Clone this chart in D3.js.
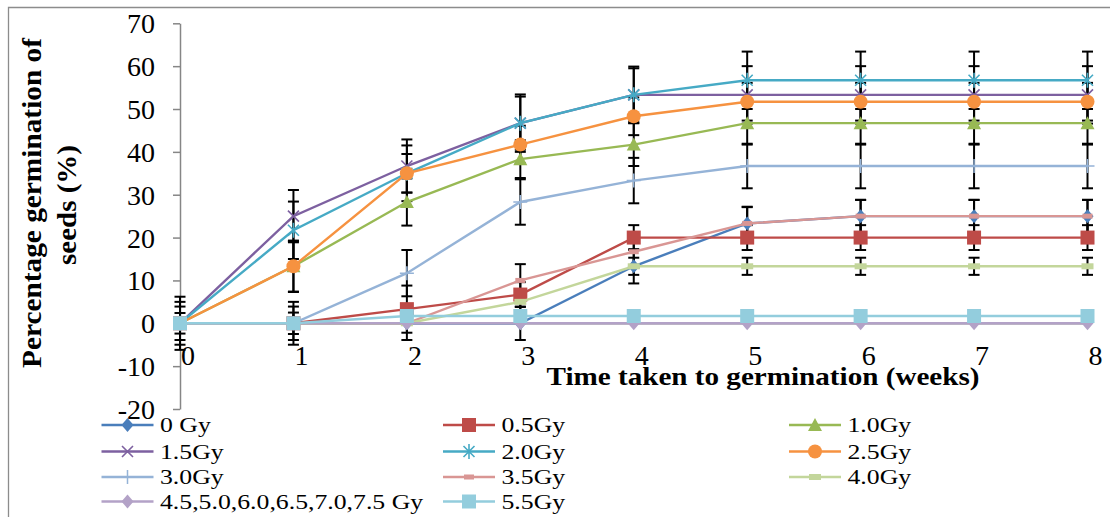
<!DOCTYPE html>
<html>
<head>
<meta charset="utf-8">
<script src="https://cdn.jsdelivr.net/npm/d3@7"></script>
<style>
  body { margin: 0; background: #fff; }
  svg text { font-family: "Liberation Serif", "Times New Roman", serif; fill: #000; }
</style>
</head>
<body>
<svg id="chart" width="1110" height="517"></svg>
<script>
//Weeks on the x axis
var weeks = [0, 1, 2, 3, 4, 5, 6, 7, 8];
var yTicks = [-20, -10, 0, 10, 20, 30, 40, 50, 60, 70];

//Series names, in legend order
var names = ["0 Gy", "0.5Gy", "1.0Gy", "1.5Gy", "2.0Gy", "2.5Gy", "3.0Gy", "3.5Gy", "4.0Gy",
  "4.5,5.0,6.0,6.5,7.0,7.5 Gy", "5.5Gy"];

//Germination (%) per week
var g00 = [0, 0, 0, 0, 13.3, 23.3, 25, 25, 25];
var g05 = [0, 0, 3.3, 6.7, 20, 20, 20, 20, 20];
var g10 = [0, 13.3, 28.3, 38.3, 41.7, 46.7, 46.7, 46.7, 46.7];
var g15 = [0, 25, 36.7, 46.7, 53.3, 53.3, 53.3, 53.3, 53.3];
var g20 = [0, 21.7, 35, 46.7, 53.3, 56.7, 56.7, 56.7, 56.7];
var g25 = [0, 13.3, 35, 41.7, 48.3, 51.7, 51.7, 51.7, 51.7];
var g30 = [0, 0, 11.7, 28.3, 33.3, 36.7, 36.7, 36.7, 36.7];
var g35 = [0, 0, 0, 10, 16.7, 23.3, 25, 25, 25];
var g40 = [0, 0, 0, 5, 13.3, 13.3, 13.3, 13.3, 13.3];
var g45 = [0, 0, 0, 0, 0, 0, 0, 0, 0];
var g55 = [0, 0, 1.7, 1.7, 1.7, 1.7, 1.7, 1.7, 1.7];

//Error bar half lengths per week
var e00 = [3.9, 3.9, 3.9, 3.9, 4, 3.9, 3.8, 3.8, 3.8];
var e05 = [2.4, 2.5, 5.5, 2.9, 2.9, 2.9, 2.9, 2.9, 2.9];
var e10 = [6.2, 5.9, 5.5, 4.4, 5, 5, 5, 5, 5];
var e15 = [0, 6.1, 6.2, 6.2, 6.2, 6.7, 6.7, 6.7, 6.7];
var e20 = [0, 6.7, 6.5, 6.7, 6.6, 6.7, 6.7, 6.7, 6.7];
var e25 = [0, 6, 4.5, 4.4, 4.4, 4.4, 4.4, 4.4, 4.4];
var e30 = [5, 5, 5.4, 5.3, 5.3, 5.2, 5.2, 5.2, 5.2];
var e35 = [0, 0, 0, 3.8, 3.8, 3.8, 3.8, 3.8, 3.8];
var e40 = [0, 0, 0, 2, 2, 2, 2, 2, 2];
var e45 = [0, 0, 0, 0, 0, 0, 0, 0, 0];
var e55 = [0, 0, 0, 0, 0, 0, 0, 0, 0];

var values = [g00, g05, g10, g15, g20, g25, g30, g35, g40, g45, g55];
var errors = [e00, e05, e10, e15, e20, e25, e30, e35, e40, e45, e55];

//Excel 2007 style colours and markers
var colors = ["#4A7EBB", "#BE4B48", "#98B954", "#7D60A0", "#46AAC5", "#F69240",
  "#95B3D7", "#D99694", "#C3D69B", "#B3A2C7", "#93CDDD"];
var markers = ["diamond", "square", "triangle", "x", "star", "circle",
  "plus", "dash", "dashBig", "diamond", "square"];

var series = names.map(function(n, i) {
  return {
    name: n, color: colors[i], marker: markers[i],
    points: weeks.map(function(w, j) { return { w: w, v: values[i][j], e: errors[i][j] }; })
  };
});

var svg = d3.select("#chart");

//Outer frame
svg.append("path")
  .attr("d", "M8.5,517V7.5H1110")
  .attr("fill", "none")
  .attr("stroke", "#8c8c8c")
  .attr("stroke-width", 1.3);

var x = d3.scaleLinear().domain([0, 8]).range([180, 1087.5]);
var y = d3.scaleLinear().domain([-20, 70]).range([409, 23.3]);

//Plain hyphen for negatives, like the original
var plain = function(d) { return String(d); };

//Y axis
var yAxis = svg.append("g")
  .attr("transform", "translate(180,0)")
  .call(d3.axisLeft(y).tickValues(yTicks).tickFormat(plain)
    .tickSizeOuter(0).tickSizeInner(7).tickPadding(18));
yAxis.select(".domain").attr("stroke", "#868686").attr("stroke-width", 1.5);
yAxis.selectAll(".tick line").attr("stroke", "#868686").attr("stroke-width", 1.5);
yAxis.selectAll(".tick text")
  .attr("font-size", 28)
  .attr("font-family", "Liberation Serif, Times New Roman, serif")
  .attr("dy", "0.34em");

//X axis crossing at zero
var xAxis = svg.append("g")
  .attr("transform", "translate(0," + y(0) + ")")
  .call(d3.axisBottom(x).tickValues(weeks).tickSize(0).tickFormat(plain));
xAxis.select(".domain").attr("stroke", "#868686").attr("stroke-width", 1.5);
xAxis.selectAll(".tick text")
  .attr("font-size", 28)
  .attr("font-family", "Liberation Serif, Times New Roman, serif")
  .attr("dy", null)
  .attr("y", 42)
  .attr("x", 7.5);

//Axis titles
svg.append("text")
  .attr("x", 763)
  .attr("y", 385)
  .attr("text-anchor", "middle")
  .attr("font-size", 25)
  .attr("font-weight", "bold")
  .attr("textLength", 433)
  .attr("lengthAdjust", "spacingAndGlyphs")
  .text("Time taken to germination (weeks)");

var yTitle = svg.append("g").attr("font-size", 28).attr("font-weight", "bold").attr("text-anchor", "middle");
yTitle.append("text")
  .attr("transform", "translate(41,203) rotate(-90)")
  .attr("textLength", 330)
  .attr("lengthAdjust", "spacingAndGlyphs")
  .text("Percentage germination of");
yTitle.append("text")
  .attr("transform", "translate(76,205) rotate(-90)")
  .attr("textLength", 120)
  .attr("lengthAdjust", "spacingAndGlyphs")
  .text("seeds (%)");

//Marker drawing
function drawMarker(g, type, color) {
  switch (type) {
    case "diamond":
      g.append("path").attr("d", "M0,-7L6,0L0,7L-6,0Z").attr("fill", color);
      break;
    case "square":
      g.append("rect").attr("x", -7).attr("y", -7).attr("width", 14).attr("height", 14).attr("fill", color);
      break;
    case "triangle":
      g.append("path").attr("d", "M0,-7L7,6L-7,6Z").attr("fill", color);
      break;
    case "circle":
      g.append("circle").attr("r", 7).attr("fill", color);
      break;
    case "x":
      g.append("path").attr("d", "M-5.5,-5.5L5.5,5.5M-5.5,5.5L5.5,-5.5")
        .attr("stroke", color).attr("stroke-width", 1.6).attr("fill", "none");
      break;
    case "star":
      g.append("path").attr("d", "M-5.5,-5.5L5.5,5.5M-5.5,5.5L5.5,-5.5M0,-7.5L0,7.5")
        .attr("stroke", color).attr("stroke-width", 1.6).attr("fill", "none");
      break;
    case "plus":
      g.append("path").attr("d", "M-7,0L7,0M0,-7L0,7")
        .attr("stroke", color).attr("stroke-width", 1.5).attr("fill", "none");
      break;
    case "dash":
      g.append("rect").attr("x", -5).attr("y", -2.5).attr("width", 10).attr("height", 5).attr("fill", color);
      break;
    case "dashBig":
      g.append("rect").attr("x", -6).attr("y", -3).attr("width", 12).attr("height", 6).attr("fill", color);
      break;
  }
}

//Error bars under everything else
var bars = svg.append("g").attr("stroke", "#000").attr("stroke-width", 2);
series.forEach(function(s) {
  s.points.filter(function(p) { return p.e > 0; }).forEach(function(p) {
    var cx = x(p.w), top = y(p.v + p.e), bot = y(p.v - p.e);
    bars.append("line").attr("x1", cx).attr("x2", cx).attr("y1", top).attr("y2", bot);
    bars.append("line").attr("x1", cx - 5.5).attr("x2", cx + 5.5).attr("y1", top).attr("y2", top);
    bars.append("line").attr("x1", cx - 5.5).attr("x2", cx + 5.5).attr("y1", bot).attr("y2", bot);
  });
});

//Lines and markers
var line = d3.line()
  .x(function(d) { return x(d.w); })
  .y(function(d) { return y(d.v); });

series.forEach(function(s) {
  var g = svg.append("g").attr("class", "series");
  g.append("path")
    .attr("d", line(s.points))
    .attr("fill", "none")
    .attr("stroke", s.color)
    .attr("stroke-width", 2.4);
  g.selectAll(".mk")
    .data(s.points)
    .enter()
    .append("g")
    .attr("class", "mk")
    .attr("transform", function(d) { return "translate(" + x(d.w) + "," + y(d.v) + ")"; })
    .each(function() { drawMarker(d3.select(this), s.marker, s.color); });
});

//Legend, three columns
var legCols = [101.5, 443, 789];
var legRows = [425, 451.5, 477, 501.5];

var legend = svg.selectAll(".legend")
  .data(series)
  .enter()
  .append("g")
  .attr("class", "legend")
  .attr("transform", function(d, i) {
    return "translate(" + legCols[i % 3] + "," + legRows[Math.floor(i / 3)] + ")";
  });

legend.append("line")
  .attr("x1", 0).attr("x2", 52)
  .attr("stroke", function(d) { return d.color; })
  .attr("stroke-width", 2.4);

legend.append("g")
  .attr("transform", "translate(26,0)")
  .each(function(d) { drawMarker(d3.select(this), d.marker, d.color); });

legend.append("text")
  .attr("x", 58.5)
  .attr("dy", "0.34em")
  .attr("font-size", 22)
  .text(function(d) { return d.name; })
  .each(function() {
    var w = this.getComputedTextLength();
    d3.select(this).attr("textLength", w * 1.17).attr("lengthAdjust", "spacingAndGlyphs");
  });
</script>
</body>
</html>
